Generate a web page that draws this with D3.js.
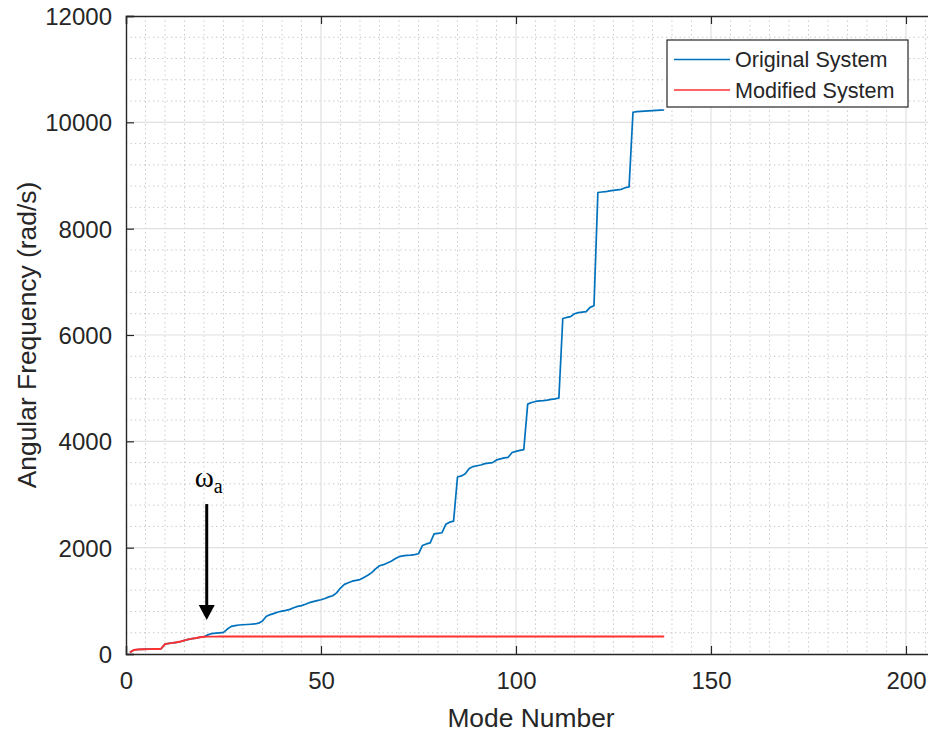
<!DOCTYPE html>
<html>
<head>
<meta charset="utf-8">
<script src="https://cdn.jsdelivr.net/npm/d3@7"></script>
<style>
  html, body { margin: 0; padding: 0; background: #fff; }
  svg { display: block; }
</style>
</head>
<body>
<svg id="chart" width="928" height="733"></svg>
<script>
// ---------------- DATA ----------------
const seriesNames = ["Original System", "Modified System"];

const originalSystem = [
  30, 75, 85, 88, 90, 92, 93, 95, 100, 185,
  200, 210, 220, 235, 255, 275, 290, 300, 315, 325,
  360, 385, 392, 398, 405, 470, 520, 535, 545, 550,
  555, 560, 565, 580, 620, 710, 740, 765, 790, 805,
  820, 840, 870, 895, 910, 935, 965, 985, 1005, 1020,
  1045, 1075, 1095, 1150, 1240, 1310, 1340, 1370, 1385, 1400,
  1440, 1480, 1530, 1600, 1660, 1680, 1710, 1745, 1790, 1830,
  1845, 1855, 1860, 1870, 1885, 2040, 2070, 2090, 2260, 2270,
  2280, 2440, 2480, 2500, 3330, 3350, 3390, 3490, 3525, 3540,
  3555, 3580, 3590, 3600, 3650, 3670, 3690, 3700, 3790, 3810,
  3830, 3845, 4700, 4730, 4750, 4760, 4765, 4775, 4790, 4800,
  4815, 6310, 6330, 6345, 6400, 6420, 6430, 6440, 6520, 6550,
  8680, 8690, 8695, 8710, 8720, 8730, 8740, 8770, 8785, 10190,
  10200, 10205, 10210, 10215, 10220, 10225, 10228, 10232
];

const modifiedSystem = [
  30, 75, 85, 88, 90, 92, 93, 95, 100, 185,
  200, 210, 220, 235, 255, 275, 290, 300, 315, 325,
  326, 327, 327, 328, 328, 328, 328, 328, 328, 328,
  328, 328, 328, 328, 328, 328, 328, 328, 328, 328,
  328, 328, 328, 328, 328, 328, 328, 328, 328, 328,
  328, 328, 328, 328, 328, 328, 328, 328, 328, 328,
  328, 328, 328, 328, 328, 328, 328, 328, 328, 328,
  328, 328, 328, 328, 328, 328, 328, 328, 328, 328,
  328, 328, 328, 328, 328, 328, 328, 328, 328, 328,
  328, 328, 328, 328, 328, 328, 328, 328, 328, 328,
  328, 328, 328, 328, 328, 328, 328, 328, 328, 328,
  328, 328, 328, 328, 328, 328, 328, 328, 328, 328,
  328, 328, 328, 328, 328, 328, 328, 328, 328, 328,
  328, 328, 328, 328, 328, 328, 328, 328
];

const xTicks = [0, 50, 100, 150, 200];
const yTicks = [0, 2000, 4000, 6000, 8000, 10000, 12000];
const xLabel = "Mode Number";
const yLabel = "Angular Frequency (rad/s)";

// annotation: arrow at mode ~20.7, from 2820 down to 640 rad/s
const annotMode = 20.7;
const arrowFrom = 2820;
const arrowTo = 640;
const annotTextY = 3140;

// ---------------- LAYOUT ----------------
const svg = d3.select("#chart");
const L = 126, R = 936, T = 16, B = 654;

const x = d3.scaleLinear().domain([0, 207.7]).range([L, R]);
const y = d3.scaleLinear().domain([0, 12000]).range([B, T]);

const axisColor = "#262626";
const fontSans = "'Liberation Sans', Arial, Helvetica, sans-serif";

// clip for plot area
svg.append("defs").append("clipPath").attr("id", "plotclip")
  .append("rect").attr("x", L).attr("y", T).attr("width", R - L).attr("height", B - T);

// ---------------- GRID ----------------
const grid = svg.append("g");
const xMinor = d3.range(0, 210, 5).filter(v => v % 50 !== 0 && x(v) < R);
const yMinor = d3.range(0, 12001, 400).filter(v => v % 2000 !== 0);

grid.selectAll(".xminor").data(xMinor).join("line")
  .attr("x1", d => x(d)).attr("x2", d => x(d)).attr("y1", T).attr("y2", B)
  .attr("stroke", "#c4c4c4").attr("stroke-width", 1).attr("stroke-dasharray", "1.3,3.2");
grid.selectAll(".yminor").data(yMinor).join("line")
  .attr("y1", d => y(d)).attr("y2", d => y(d)).attr("x1", L).attr("x2", R)
  .attr("stroke", "#c4c4c4").attr("stroke-width", 1).attr("stroke-dasharray", "1.3,3.2");

grid.selectAll(".xmajor").data(xTicks.filter(v => v > 0)).join("line")
  .attr("x1", d => x(d)).attr("x2", d => x(d)).attr("y1", T).attr("y2", B)
  .attr("stroke", "#e0e0e0").attr("stroke-width", 1.2);
grid.selectAll(".ymajor").data(yTicks.filter(v => v > 0 && v < 12000)).join("line")
  .attr("y1", d => y(d)).attr("y2", d => y(d)).attr("x1", L).attr("x2", R)
  .attr("stroke", "#e0e0e0").attr("stroke-width", 1.2);

// ---------------- LINES ----------------
const modes = d3.range(1, originalSystem.length + 1);
const line = d3.line().x((d, i) => x(modes[i])).y(d => y(d));

const plot = svg.append("g").attr("clip-path", "url(#plotclip)");
plot.append("path").datum(originalSystem)
  .attr("d", line).attr("fill", "none")
  .attr("stroke", "#0072BD").attr("stroke-width", 1.7).attr("stroke-linejoin", "round");
plot.append("path").datum(modifiedSystem)
  .attr("d", line).attr("fill", "none")
  .attr("stroke", "#ff3030").attr("stroke-width", 1.9).attr("stroke-linejoin", "round");

// ---------------- AXES ----------------
const xAxis = d3.axisBottom(x).tickValues(xTicks).tickSize(-8).tickPadding(18).tickFormat(d3.format("d"));
const yAxis = d3.axisLeft(y).tickValues(yTicks).tickSize(-8).tickPadding(14).tickFormat(d3.format("d"));
const xTop = d3.axisTop(x).tickValues(xTicks).tickSize(-8).tickFormat("");

const gx = svg.append("g").attr("transform", `translate(0,${B})`).call(xAxis);
const gy = svg.append("g").attr("transform", `translate(${L},0)`).call(yAxis);
const gt = svg.append("g").attr("transform", `translate(0,${T})`).call(xTop);

[gx, gy, gt].forEach(g => {
  g.select(".domain").attr("stroke", axisColor).attr("stroke-width", 1.4);
  g.selectAll(".tick line").attr("stroke", axisColor).attr("stroke-width", 1.2);
  g.selectAll(".tick text").attr("fill", axisColor)
    .style("font-family", fontSans).style("font-size", "24px");
});
gy.selectAll(".tick text").attr("dy", "0.36em");
gx.selectAll(".tick text").attr("dy", "0.71em");

// axis labels
svg.append("text")
  .attr("x", (L + R) / 2).attr("y", 727)
  .attr("text-anchor", "middle").attr("fill", axisColor)
  .style("font-family", fontSans).style("font-size", "26.4px")
  .text(xLabel);
svg.append("text")
  .attr("transform", `translate(36,${(T + B) / 2}) rotate(-90)`)
  .attr("text-anchor", "middle").attr("fill", axisColor)
  .style("font-family", fontSans).style("font-size", "26.4px")
  .text(yLabel);

// ---------------- ANNOTATION ----------------
const ax = x(annotMode);
svg.append("line")
  .attr("x1", ax).attr("x2", ax).attr("y1", y(arrowFrom)).attr("y2", y(arrowTo) - 14)
  .attr("stroke", "#000").attr("stroke-width", 3);
svg.append("path")
  .attr("d", `M${ax - 8},${y(arrowTo) - 15} L${ax + 8},${y(arrowTo) - 15} L${ax},${y(arrowTo)} Z`)
  .attr("fill", "#000");
const annot = svg.append("text")
  .attr("x", ax - 12).attr("y", y(annotTextY))
  .attr("fill", "#000")
  .style("font-family", "'Liberation Serif', 'Times New Roman', serif")
  .style("font-size", "29px");
annot.append("tspan").text("ω");
annot.append("tspan").attr("dy", 6).style("font-size", "20px").text("a");

// ---------------- LEGEND ----------------
const lg = svg.append("g");
lg.append("rect").attr("x", 667).attr("y", 40).attr("width", 241).attr("height", 67)
  .attr("fill", "#fff").attr("stroke", axisColor).attr("stroke-width", 1.2);
const legendColors = ["#0072BD", "#ff3030"];
seriesNames.forEach((name, i) => {
  const ly = 59.5 + i * 30.5;
  lg.append("line").attr("x1", 674).attr("x2", 730).attr("y1", ly).attr("y2", ly)
    .attr("stroke", legendColors[i]).attr("stroke-width", 1.7);
  lg.append("text").attr("x", 735).attr("y", ly).attr("dy", "0.36em")
    .attr("fill", axisColor)
    .style("font-family", fontSans).style("font-size", "21.6px")
    .text(name);
});
</script>
</body>
</html>
